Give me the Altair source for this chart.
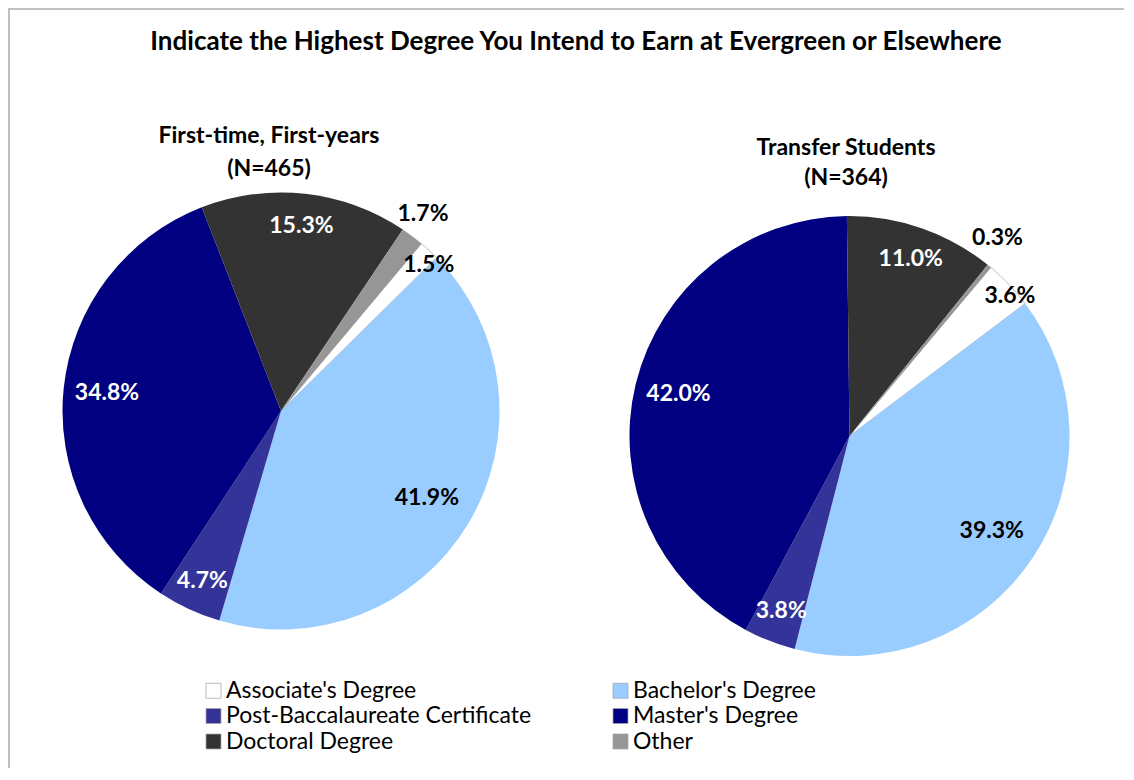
import math
import altair as alt
import pandas as pd

# ---------------- data ----------------
title_text = "Indicate the Highest Degree You Intend to Earn at Evergreen or Elsewhere"
categories = ["Associate's Degree", "Bachelor's Degree", "Post-Baccalaureate Certificate",
              "Master's Degree", "Doctoral Degree", "Other"]
first_year = [1.5, 41.9, 4.7, 34.8, 15.3, 1.7]
transfer = [3.6, 39.3, 3.8, 42.0, 11.0, 0.3]
colors = ["#FFFFFF", "#99CCFF", "#333399", "#000080", "#333333", "#969696"]
pies = ["First-time, First-years", "Transfer Students"]
pie_n = [465, 364]

rows = []
for pie, vals in zip(pies, [first_year, transfer]):
    for i, (c, v) in enumerate(zip(categories, vals)):
        rows.append({"pie": pie, "cat": c, "idx": i, "v": v})
df = pd.DataFrame(rows)

FONT = "Lato"
W, H = 1116, 760
START = math.radians(40)
theta_scale = alt.Scale(domain=[0, 1], range=[START, START + 2 * math.pi])

base = alt.Chart(df).transform_joinaggregate(
    total="sum(v)", groupby=["pie"]
).transform_window(
    cum="sum(v)", groupby=["pie"], sort=[alt.SortField("idx")], frame=[None, 0]
).transform_calculate(
    t1="datum.cum / datum.total",
    t0="(datum.cum - datum.v) / datum.total",
    tm="(datum.cum - datum.v / 2) / datum.total",
    label="format(datum.v, '.1f') + '%'",
    edge="datum.idx == 0 ? '#BFBFBF' : 'transparent'",
)

legend = alt.Legend(
    title=None, orient="none", legendX=194, legendY=671, columns=2,
    direction="horizontal",
    symbolType="square", symbolSize=225, symbolStrokeColor="#A6A6A6",
    symbolStrokeWidth=0.75, labelFont=FONT, labelFontSize=23, labelColor="black",
    labelOffset=1, rowPadding=1.5, columnPadding=77, padding=0, labelLimit=0,
)

geom = {
    pies[0]: dict(cx=273, cy=403, r=218.5),
    pies[1]: dict(cx=841.5, cy=428, r=220),
}


def arcs(pie):
    g = geom[pie]
    return base.transform_filter(alt.datum.pie == pie).mark_arc(
        radius=g["r"], strokeWidth=1
    ).encode(
        theta=alt.Theta("t0:Q", scale=theta_scale, stack=None),
        theta2="t1:Q",
        fill=alt.Fill("cat:N", scale=alt.Scale(domain=categories, range=colors),
                      sort=categories, legend=legend),
        stroke=alt.Stroke("edge:N", scale=None),
        x=alt.value(g["cx"]),
        y=alt.value(g["cy"]),
    )


# (pie, slice index, label radius, colour, dx, dy)
label_specs = [
    (pies[0], 0, 212, "black", 4, 10),
    (pies[0], 1, 170, "black", 0, 0),
    (pies[0], 2, 187, "white", 0, 0),
    (pies[0], 3, 175, "white", 0, 0),
    (pies[0], 4, 186, "white", 0, 0),
    (pies[0], 5, 243, "black", -4, -3),
    (pies[1], 0, 213, "black", 6, 7),
    (pies[1], 1, 171, "black", 0, 0),
    (pies[1], 2, 188, "white", 0, 0),
    (pies[1], 3, 176, "white", 0, 0),
    (pies[1], 4, 187, "white", 0, 0),
    (pies[1], 5, 247, "black", -9, -7),
]


def label(pie, idx, radius, color, dx, dy):
    g = geom[pie]
    return base.transform_filter(
        (alt.datum.pie == pie) & (alt.datum.idx == idx)
    ).mark_text(
        radius=radius, font=FONT, fontSize=23, fontWeight="bold", color=color,
        align="center", baseline="middle", dx=dx, dy=dy,
    ).encode(
        theta=alt.Theta("tm:Q", scale=theta_scale, stack=None),
        text="label:N",
        x=alt.value(g["cx"]),
        y=alt.value(g["cy"]),
    )


def text_layer(txt, x, y, size, line_height=30):
    return alt.Chart(pd.DataFrame({"t": [txt]})).mark_text(
        font=FONT, fontSize=size, fontWeight="bold", color="black",
        align="center", baseline="middle", lineBreak="\n", lineHeight=line_height,
    ).encode(text="t:N", x=alt.value(x), y=alt.value(y))


frame_df = pd.DataFrame({"k": [0]})
frame_top = alt.Chart(frame_df).mark_rule(color="#C0C0C0", strokeWidth=2).encode(
    x=alt.value(0), x2=alt.value(W), y=alt.value(1)
)
frame_left = alt.Chart(frame_df).mark_rule(color="#C0C0C0", strokeWidth=2).encode(
    x=alt.value(1), y=alt.value(0), y2=alt.value(H)
)

layers = [frame_top, frame_left, arcs(pies[0]), arcs(pies[1])]
layers += [label(*s) for s in label_specs]
layers += [
    text_layer(title_text, 568, 34, 26),
    text_layer(f"{pies[0]}\n(N={pie_n[0]})", 261, 128, 23, 33),
    text_layer(f"{pies[1]}\n(N={pie_n[1]})", 838, 139.5, 23, 30),
]

chart = alt.layer(*layers).properties(
    width=W, height=H, padding=0, autosize="none"
).configure_view(stroke=None)

chart.save("out.html", embed_options={"renderer": "svg", "actions": False})
